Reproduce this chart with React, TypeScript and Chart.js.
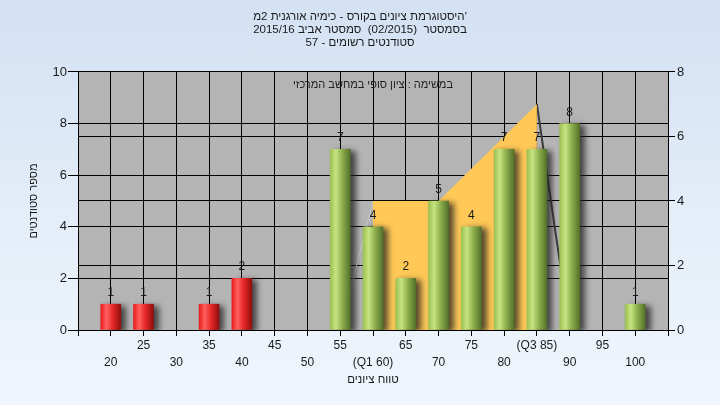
import React, { useEffect, useRef } from 'react';
import { Chart, registerables } from 'chart.js';

Chart.register(...registerables);

// ---- data ----
const titleLines = [
  "היסטוגרמת ציונים בקורס - כימיה אורגנית 2מ'",
  'בסמסטר  (02/2015)  סמסטר אביב 2015/16',
  'סטודנטים רשומים - 57',
];
const noteText = 'במשימה : ציון סופי במחשב המרכזי';
const xTitle = 'טווח ציונים';
const yTitle = 'מספר סטודנטים';

const barGrades = [20, 25, 35, 40, 55, 60, 65, 70, 75, 80, 85, 90, 100];
const barCounts = [1, 1, 1, 2, 7, 4, 2, 5, 4, 7, 7, 8, 1];
const passGrade = 55;

const tickValues = [20, 25, 30, 35, 40, 45, 50, 55, 60, 65, 70, 75, 80, 85, 90, 95, 100];
const tickLabels = ['20', '25', '30', '35', '40', '45', '50', '55', '(Q1 60)', '65', '70', '75', '80', '(Q3 85)', '90', '95', '100'];

const boxGrades = [60, 70, 85];
const boxValues = [4, 4, 7];
const leftWhiskerGrades = [55, 60];
const leftWhiskerValues = [0, 4];
const rightWhiskerGrades = [85, 90];
const rightWhiskerValues = [7, 0];

const FONT = "'Liberation Sans', Arial, 'DejaVu Sans', sans-serif";
const NARROW = "'Liberation Sans Narrow', 'Liberation Sans', Arial, sans-serif";
const TEXT = '#1a1a1a';

const plotBg = {
  id: 'plotBg',
  beforeDraw(chart: any) {
    const { ctx, chartArea: a } = chart;
    ctx.save();
    ctx.fillStyle = '#b4b4b4';
    ctx.fillRect(a.left, a.top, a.right - a.left, a.bottom - a.top);
    ctx.restore();
  },
  beforeDatasetDraw(chart: any, args: any) {
    if (args.index === 0) {
      const ctx = chart.ctx;
      ctx.save();
      ctx.shadowColor = 'rgba(30,30,30,0.75)';
      ctx.shadowBlur = 6;
      ctx.shadowOffsetX = 5;
      ctx.shadowOffsetY = 2;
    }
  },
  afterDatasetDraw(chart: any, args: any) {
    if (args.index === 0) chart.ctx.restore();
  },
  afterDatasetsDraw(chart: any) {
    const { ctx, chartArea: a } = chart;
    const meta = chart.getDatasetMeta(0);
    ctx.save();
    ctx.font = `12px ${FONT}`;
    ctx.fillStyle = TEXT;
    ctx.textAlign = 'center';
    ctx.textBaseline = 'alphabetic';
    meta.data.forEach((el: any, i: number) => {
      ctx.fillText(String(barCounts[i]), el.x, el.y - 8);
    });
    ctx.textBaseline = 'middle';
    ctx.fillStyle = '#222';
    ctx.font = `11px ${FONT}`;
    ctx.fillText(noteText, (a.left + a.right) / 2, a.top + 13);
    ctx.restore();
  },
};

function barFill(c: any) {
  const chart = c.chart;
  const pass = c.raw && c.raw.x >= passGrade;
  const solid = pass ? '#9cc455' : '#e82020';
  const xs = chart.scales && chart.scales.x;
  if (c.type !== 'data' || !xs || !c.raw) return solid;
  const cx = xs.getPixelForValue(c.raw.x);
  if (!Number.isFinite(cx)) return solid;
  const g = chart.ctx.createLinearGradient(cx - 10, 0, cx + 10, 0);
  if (pass) {
    g.addColorStop(0, '#9cc052');
    g.addColorStop(0.28, '#c6e482');
    g.addColorStop(0.6, '#8db04c');
    g.addColorStop(1, '#55702b');
  } else {
    g.addColorStop(0, '#e81c1c');
    g.addColorStop(0.28, '#ff6060');
    g.addColorStop(0.6, '#e62626');
    g.addColorStop(1, '#900f0f');
  }
  return g;
}

export default function App() {
  const ref = useRef<HTMLCanvasElement>(null);
  useEffect(() => {
    const canvas = ref.current!;
    const chart = new Chart(canvas, {
      type: 'bar',
      data: {
        datasets: [
          {
            type: 'bar',
            data: barGrades.map((g, i) => ({ x: g, y: barCounts[i] })),
            backgroundColor: barFill as any,
            borderWidth: 0,
            barThickness: 20,
            xAxisID: 'x',
            yAxisID: 'y',
            order: 0,
          } as any,
          {
            type: 'line',
            data: boxGrades.map((g, i) => ({ x: g, y: boxValues[i] })),
            backgroundColor: '#ffc857',
            borderWidth: 0,
            borderColor: 'rgba(0,0,0,0)',
            pointRadius: 0,
            fill: 'origin',
            tension: 0,
            xAxisID: 'x',
            yAxisID: 'y2',
            order: 1,
          } as any,
          {
            type: 'line',
            data: leftWhiskerGrades.map((g, i) => ({ x: g, y: leftWhiskerValues[i] })),
            borderColor: '#c8c8c8',
            borderWidth: 1,
            pointRadius: 0,
            fill: false,
            xAxisID: 'x',
            yAxisID: 'y2',
            order: 2,
          } as any,
          {
            type: 'line',
            data: rightWhiskerGrades.map((g, i) => ({ x: g, y: rightWhiskerValues[i] })),
            borderColor: '#3c3c3c',
            borderWidth: 2,
            pointRadius: 0,
            fill: false,
            xAxisID: 'x',
            yAxisID: 'y2',
            order: 2,
          } as any,
        ],
      },
      options: {
        responsive: false,
        animation: false,
        devicePixelRatio: 1,
        events: [],
        layout: { padding: 0 },
        plugins: {
          legend: { display: false },
          tooltip: { enabled: false },
          title: {
            display: true,
            text: titleLines,
            color: TEXT,
            font: { family: FONT, size: 11.5, weight: 'normal', lineHeight: 1.15 },
            padding: { top: 10, bottom: 22.3 },
          },
        },
        scales: {
          x: {
            type: 'linear',
            position: 'bottom',
            min: 15,
            max: 105,
            offset: false,
            afterBuildTicks: (s: any) => {
              const t = [{ value: 15 }];
              tickValues.forEach((v) => t.push({ value: v }));
              t.push({ value: 105 });
              s.ticks = t;
            },
            ticks: {
              autoSkip: false,
              maxRotation: 0,
              minRotation: 0,
              padding: 1,
              color: TEXT,
              font: { family: FONT, size: 12, lineHeight: 1.42 },
              callback: (v: any) => {
                const i = tickValues.indexOf(Number(v));
                if (i < 0) return '';
                return i % 2 === 1 ? [tickLabels[i], ''] : ['', tickLabels[i]];
              },
            },
            grid: { color: '#000', lineWidth: 1, tickLength: 6, offset: false },
            border: { color: '#000', width: 1 },
            title: {
              display: true,
              text: xTitle,
              color: TEXT,
              font: { family: FONT, size: 11.5, lineHeight: 1.2 },
              padding: { top: 0, bottom: 18 },
            },
            afterFit: (s: any) => {
              s.height = 75;
            },
          } as any,
          y: {
            type: 'linear',
            position: 'left',
            min: 0,
            max: 10,
            ticks: {
              stepSize: 2,
              padding: 1,
              color: TEXT,
              font: { family: NARROW, size: 13 },
            },
            grid: { color: '#000', lineWidth: 1, tickLength: 10 },
            border: { color: '#000', width: 1 },
            title: {
              display: true,
              text: yTitle,
              color: TEXT,
              font: { family: FONT, size: 11, lineHeight: 1.2 },
              padding: { top: 27, bottom: 0 },
            },
            afterFit: (s: any) => {
              s.width = 78;
            },
          } as any,
          y2: {
            type: 'linear',
            position: 'right',
            min: 0,
            max: 8,
            ticks: {
              stepSize: 2,
              padding: 2,
              color: TEXT,
              font: { family: NARROW, size: 13 },
            },
            grid: { color: '#000', lineWidth: 1, tickLength: 7 },
            border: { color: '#000', width: 1 },
            afterFit: (s: any) => {
              s.width = 52;
            },
          } as any,
        },
      },
      plugins: [plotBg],
    });
    return () => chart.destroy();
  }, []);

  return (
    <div
      style={{
        position: 'fixed',
        left: 0,
        top: 0,
        width: 720,
        height: 405,
        background: 'linear-gradient(to bottom, #d3e1f3 0%, #e6eff9 60%, #eff5fc 100%)',
      }}
    >
      <canvas ref={ref} width={720} height={405} style={{ display: 'block', width: 720, height: 405 }} />
    </div>
  );
}
